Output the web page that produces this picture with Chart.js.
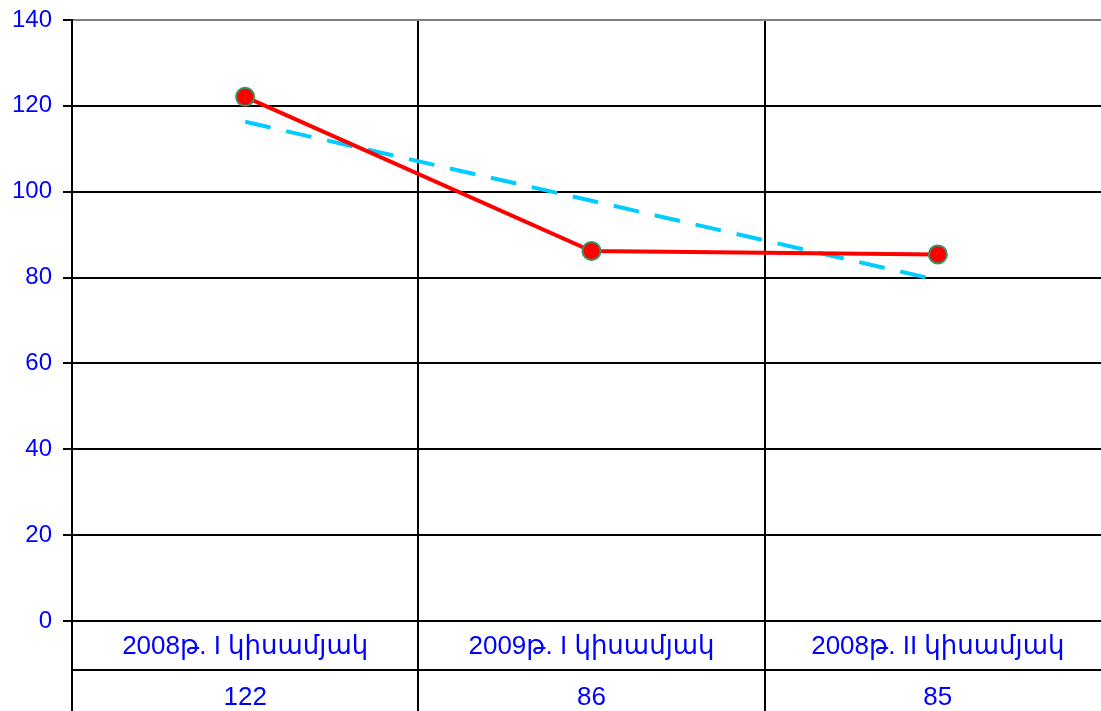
<!DOCTYPE html>
<html>
<head>
<meta charset="utf-8">
<script src="https://cdn.jsdelivr.net/npm/chart.js@4/dist/chart.umd.min.js"></script>
<style>
  html, body { margin: 0; padding: 0; background: #fff; overflow: hidden; }
  #wrap { width: 1101px; height: 711px; overflow: hidden; }
  canvas { display: block; }
</style>
</head>
<body>
<div id="wrap"><canvas id="c" width="1122" height="711"></canvas></div>
<script>
// ---- data ----
const categories = ['2008թ. I կիսամյակ', '2009թ. I կիսամյակ', '2008թ. II կիսամյակ'];
const seriesValues = [122.1, 86.2, 85.4];
const trendValues = [116.3, 97.9, 79.4];
const tableValues = ['122', '86', '85'];
const yTicks = [0, 20, 40, 60, 80, 100, 120, 140];

const FONT = "'Liberation Sans', Arial, 'DejaVu Sans', sans-serif";
const BLUE = '#0000ff';

const tablePlugin = {
  id: 'dataTable',
  afterDraw(chart) {
    const { ctx, chartArea: a, scales: { x } } = chart;
    const step = x.getPixelForValue(1) - x.getPixelForValue(0);
    const half = step / 2;
    const rowLine = Math.round(a.bottom + 49);
    const bottom = chart.height + 5;
    ctx.save();
    ctx.strokeStyle = '#000';
    ctx.lineWidth = 2;
    ctx.beginPath();
    ctx.moveTo(a.left, rowLine);
    ctx.lineTo(a.right + 2, rowLine);
    ctx.stroke();
    for (let i = 0; i <= categories.length; i++) {
      const px = Math.round(x.getPixelForValue(0) - half + i * step);
      ctx.beginPath();
      ctx.moveTo(px, a.bottom);
      ctx.lineTo(px, bottom);
      ctx.stroke();
    }
    ctx.fillStyle = BLUE;
    ctx.font = '26px ' + FONT;
    ctx.textAlign = 'center';
    ctx.textBaseline = 'middle';
    categories.forEach((c, i) => {
      const cx = x.getPixelForValue(i);
      ctx.fillText(c, cx, a.bottom + 26);
      ctx.fillText(tableValues[i], cx, a.bottom + 77);
    });
    ctx.restore();
  }
};

new Chart(document.getElementById('c'), {
  type: 'line',
  data: {
    labels: categories,
    datasets: [
      {
        label: 'series',
        data: seriesValues,
        borderColor: '#ff0000',
        borderWidth: 4,
        backgroundColor: '#ff0000',
        pointBackgroundColor: '#ff0000',
        pointBorderColor: '#3a8f5f',
        pointBorderWidth: 2,
        pointRadius: 9,
        tension: 0,
        fill: false
      },
      {
        label: 'trend',
        data: trendValues,
        borderColor: '#00ccff',
        borderWidth: 4,
        borderDash: [26, 16],
        pointRadius: 0,
        tension: 0,
        fill: false
      }
    ]
  },
  options: {
    responsive: false,
    animation: false,
    devicePixelRatio: 1,
    layout: { padding: { top: 20, right: 0, left: 0, bottom: 0 } },
    plugins: { legend: { display: false }, tooltip: { enabled: false } },
    scales: {
      x: {
        type: 'category',
        offset: true,
        grid: { offset: true, color: '#000', lineWidth: 2, drawTicks: false },
        border: { display: true, color: '#000', width: 2 },
        ticks: { display: false },
        afterFit(s) { s.height = 90; s.paddingLeft = 0; s.paddingRight = 0; }
      },
      y: {
        min: 0,
        max: 140,
        afterBuildTicks(s) { s.ticks = yTicks.map(v => ({ value: v })); },
        grid: {
          color: (c) => (c.tick && c.tick.value === 140 ? '#808080' : '#000'),
          tickColor: '#000',
          lineWidth: 2,
          tickLength: 9
        },
        border: { display: true, color: '#000', width: 2 },
        ticks: {
          color: BLUE,
          font: { family: FONT, size: 24 },
          padding: 11
        },
        afterFit(s) { s.width = 72; s.paddingTop = 0; s.paddingBottom = 0; }
      }
    }
  },
  plugins: [tablePlugin]
});
</script>
</body>
</html>
